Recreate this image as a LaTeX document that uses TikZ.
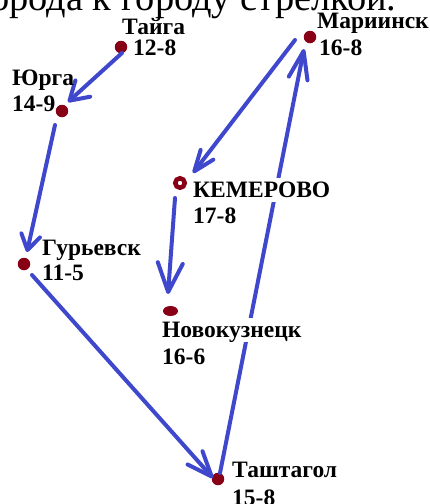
\documentclass[tikz,border=0pt]{standalone}
\usepackage{fontspec}
\setmainfont{Liberation Serif}
\usetikzlibrary{arrows.meta,shapes.geometric}

\definecolor{penblue}{RGB}{63,72,204}
\definecolor{dotred}{RGB}{136,0,21}

\tikzset{
  dot/.style={circle, fill=dotred, inner sep=0pt, minimum size=12.5pt},
  ringdot/.style={circle, draw=dotred, line width=4.5pt, fill=white, inner sep=0pt, minimum size=9.5pt},
  ovaldot/.style={ellipse, fill=dotred, inner sep=0pt, minimum width=15pt, minimum height=10pt},
  citycode/.style={anchor=base west, inner sep=0pt, font=\bfseries\fontsize{23.5}{26}\selectfont},
  cityname/.style={citycode},
  cutout/.style={fill=white, text height=19pt, text depth=5pt},
  route/.style={draw=penblue, line width=4pt, line cap=round},
  barb/.style n args={2}{-{Straight Barb[length=#1pt, width=#2pt, round]}},
}

\begin{document}
\begin{tikzpicture}[x=1pt, y=-1pt]
  \useasboundingbox (0,0) rectangle (429,504);

  % heading line, cut off by the page edge
  \node[anchor=base west, inner sep=0pt, font=\fontsize{38.4}{40}\selectfont] (heading) at (-10,10)
    {орода к городу стрелкой.};

  % towns
  \node[dot]     (tayga)  at (121,47)  {};
  \node[dot]     (yurga)  at (62,111)  {};
  \node[dot]     (mariinsk) at (310,37) {};
  \node[ringdot] (kemerovo) at (180,183) {};
  \node[dot]     (guryevsk) at (24,264) {};
  \node[ovaldot] (novokuz) at (170.5,311) {};
  \node[dot]     (tashtagol) at (218,479) {};

  % route arrows
  \draw[route, barb={18}{22}] ([shift={(1,6)}]tayga.center) -- ([shift={(6,-9)}]yurga.center);
  \draw[route, barb={15}{19}] ([shift={(-7,14)}]yurga.center) -- ([shift={(3,-12)}]guryevsk.center);
  \draw[route, barb={25}{20}] ([shift={(8,11)}]guryevsk.center) -- ([shift={(-5,-1)}]tashtagol.center);
  \draw[route, barb={28}{19}] ([shift={(2,-6)}]tashtagol.center) -- ([shift={(-6,12)}]mariinsk.center);
  \draw[route, barb={21}{16}] ([shift={(-15,3)}]mariinsk.center) -- ([shift={(13,-10)}]kemerovo.center);
  \draw[route, barb={29}{25}] ([shift={(-5,15)}]kemerovo.center) -- ([shift={(-2.5,-17)}]novokuz.center);

  % names and codes
  \node[cityname] (tayga-name) at (122,34) {Тайга};
  \node[citycode] (tayga-code) at (133,55) {12-8};
  \node[cityname] (yurga-name) at (12,85) {Юрга};
  \node[citycode] (yurga-code) at (12,111) {14-9};
  \node[cityname] (mariinsk-name) at (317,28) {Мариинск};
  \node[citycode] (mariinsk-code) at (319,55) {16-8};
  \node[cityname, cutout] (kemerovo-name) at (193,197) {КЕМЕРОВО};
  \node[citycode] (kemerovo-code) at (193,223) {17-8};
  \node[cityname] (guryevsk-name) at (42,255) {Гурьевск};
  \node[citycode] (guryevsk-code) at (42,280) {11-5};
  \node[cityname, cutout] (novokuz-name) at (162,337) {Новокузнецк};
  \node[citycode] (novokuz-code) at (162,364) {16-6};
  \node[cityname] (tashtagol-name) at (232,477) {Таштагол};
  \node[citycode] (tashtagol-code) at (232,505) {15-8};
\end{tikzpicture}
\end{document}
